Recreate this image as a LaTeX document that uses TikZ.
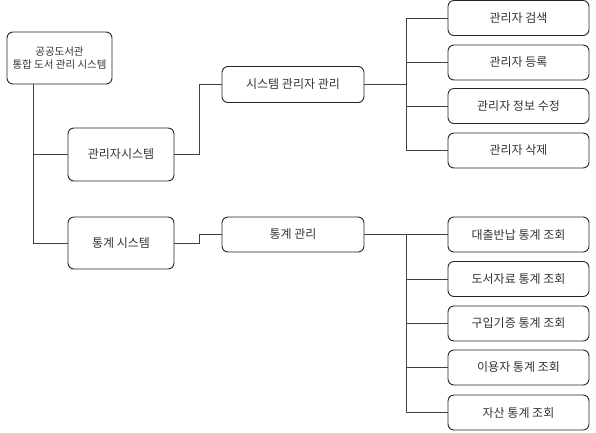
\documentclass[tikz,border=0pt]{standalone}
\usepackage{fontspec}
\newfontfamily\kr{Noto Sans CJK KR}
\begin{document}
\begin{tikzpicture}[x=1pt,y=-1pt,
  box/.style={draw=black!85,line width=0.9pt,rounded corners=6pt,align=center,
    font=\kr\fontsize{12}{14}\selectfont,text=black!80,inner sep=1pt},
  rootbox/.style={box,font=\kr\fontsize{10.5}{13}\selectfont},
  conn/.style={draw=black!75,line width=0.9pt}]
\useasboundingbox (0,0) rectangle (596,432);
\node[rootbox,minimum width=105pt,minimum height=52pt] (root) at (59.5,58) {공공도서관\\통합 도서 관리 시스템};
\node[box,minimum width=106pt,minimum height=53pt] (sys1) at (121,154.5) {관리자시스템};
\node[box,minimum width=106pt,minimum height=52pt] (sys2) at (121,243) {통계 시스템};
\node[box,minimum width=142pt,minimum height=36pt] (mgr) at (293,84.5) {시스템 관리자 관리};
\node[box,minimum width=142pt,minimum height=35pt] (stat) at (293,234.5) {통계 관리};
\node[box,minimum width=141pt,minimum height=35pt] (a1) at (518.5,18) {관리자 검색};
\node[box,minimum width=141pt,minimum height=35pt] (a2) at (518.5,62.5) {관리자 등록};
\node[box,minimum width=141pt,minimum height=35pt] (a3) at (518.5,106) {관리자 정보 수정};
\node[box,minimum width=141pt,minimum height=35pt] (a4) at (518.5,150.5) {관리자 삭제};
\node[box,minimum width=141pt,minimum height=35pt] (b1) at (518.5,234.5) {대출반납 통계 조회};
\node[box,minimum width=141pt,minimum height=35pt] (b2) at (518.5,279) {도서자료 통계 조회};
\node[box,minimum width=141pt,minimum height=35pt] (b3) at (518.5,323.5) {구입기증 통계 조회};
\node[box,minimum width=141pt,minimum height=35pt] (b4) at (518.5,367.5) {이용자 통계 조회};
\node[box,minimum width=141pt,minimum height=35pt] (b5) at (518.5,412.5) {자산 통계 조회};
\coordinate (rt) at (33,0);
\coordinate (ja) at (406,0);
\draw[conn] (rt |- root.south) -- (rt |- sys2.west) -- (sys2.west);
\draw[conn] (rt |- sys1.west) -- (sys1.west);
\draw[conn] (sys1.east) -- ++(25,0) |- (mgr.west);
\draw[conn] (sys2.east) -- ++(25,0) |- (stat.west);
\draw[conn] (mgr.east) -- (ja |- mgr.east);
\draw[conn] (ja |- a1.west) -- (ja |- a4.west);
\foreach \n in {a1,a2,a3,a4} \draw[conn] (ja |- \n.west) -- (\n.west);
\draw[conn] (stat.east) -- (ja |- stat.east) -- (ja |- b5.west);
\foreach \n in {b1,b2,b3,b4,b5} \draw[conn] (ja |- \n.west) -- (\n.west);
\end{tikzpicture}
\end{document}
